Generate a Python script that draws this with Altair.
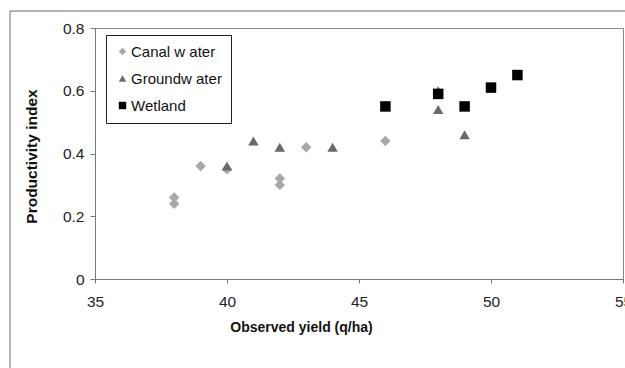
import altair as alt
import pandas as pd

canal_x = [38, 38, 39, 40, 42, 42, 43, 46]
canal_y = [0.26, 0.24, 0.36, 0.35, 0.32, 0.30, 0.42, 0.44]
ground_x = [40, 41, 42, 44, 48, 48, 49]
ground_y = [0.36, 0.44, 0.42, 0.42, 0.60, 0.54, 0.46]
wet_x = [46, 48, 49, 50, 51]
wet_y = [0.55, 0.59, 0.55, 0.61, 0.65]

series = ["Canal w ater", "Groundw ater", "Wetland"]

rows = []
for name, xs, ys in [(series[0], canal_x, canal_y), (series[1], ground_x, ground_y), (series[2], wet_x, wet_y)]:
    for x, y in zip(xs, ys):
        rows.append({"series": name, "x": x, "y": y})
df = pd.DataFrame(rows)

FONT = "Liberation Sans"

points = alt.Chart(df).mark_point(filled=True, opacity=1, size=110).encode(
    x=alt.X("x:Q", scale=alt.Scale(domain=[35, 55], nice=False),
            axis=alt.Axis(values=[35, 40, 45, 50, 55], title="Observed yield (q/ha)",
                          grid=False, tickSize=4, labelPadding=11, labelFontSize=15.5,
                          labelColor="#222", labelFlush=False, labelOverlap=False,
                          titleFontSize=14, titleFontWeight="bold",
                          titleColor="#111", titleX=206, titleY=48, titleBaseline="middle",
                          domainColor="#777", tickColor="#777", labelFont=FONT, titleFont=FONT)),
    y=alt.Y("y:Q", scale=alt.Scale(domain=[0, 0.8], nice=False),
            axis=alt.Axis(values=[0, 0.2, 0.4, 0.6, 0.8], format="~g", title="Productivity index",
                          grid=False, tickSize=5, labelPadding=6, labelFontSize=15.5,
                          labelColor="#222", labelFlush=False,
                          titleFontSize=15.5, titleFontWeight="bold",
                          titleColor="#111", titleX=-64, titleY=128, titleAngle=-90,
                          titleBaseline="middle", titleAlign="center",
                          domainColor="#777", tickColor="#777", labelFont=FONT, titleFont=FONT)),
    color=alt.Color("series:N", scale=alt.Scale(domain=series, range=["#a8a8a8", "#6a6a6a", "#000000"]),
                    legend=alt.Legend(title=None, orient="none", legendX=11, legendY=7,
                                      strokeColor="#222", padding=9, rowPadding=11,
                                      labelFontSize=15, labelFont=FONT, labelColor="#111",
                                      symbolSize=55, symbolOpacity=1, fillColor="white",
                                      labelOffset=1)),
    shape=alt.Shape("series:N", scale=alt.Scale(domain=series, range=["diamond", "triangle-up", "square"]),
                    legend=None),
)

frame_left = alt.Chart(pd.DataFrame({"a": [0]})).mark_rule(color="#666", strokeWidth=1).encode(
    x=alt.value(-85), y=alt.value(-17), y2=alt.value(345))
frame_top = alt.Chart(pd.DataFrame({"a": [0]})).mark_rule(color="#666", strokeWidth=1).encode(
    x=alt.value(-85), x2=alt.value(540), y=alt.value(-17))

chart = alt.layer(points, frame_left, frame_top).properties(
    width=528, height=251,
    autosize=alt.AutoSizeParams(type="none"),
    padding={"left": 95, "top": 28, "right": 2, "bottom": 89},
    background="white",
).configure_view(stroke="#888", strokeWidth=1)

chart.save("out.html", embed_options={"renderer": "svg", "actions": False})
